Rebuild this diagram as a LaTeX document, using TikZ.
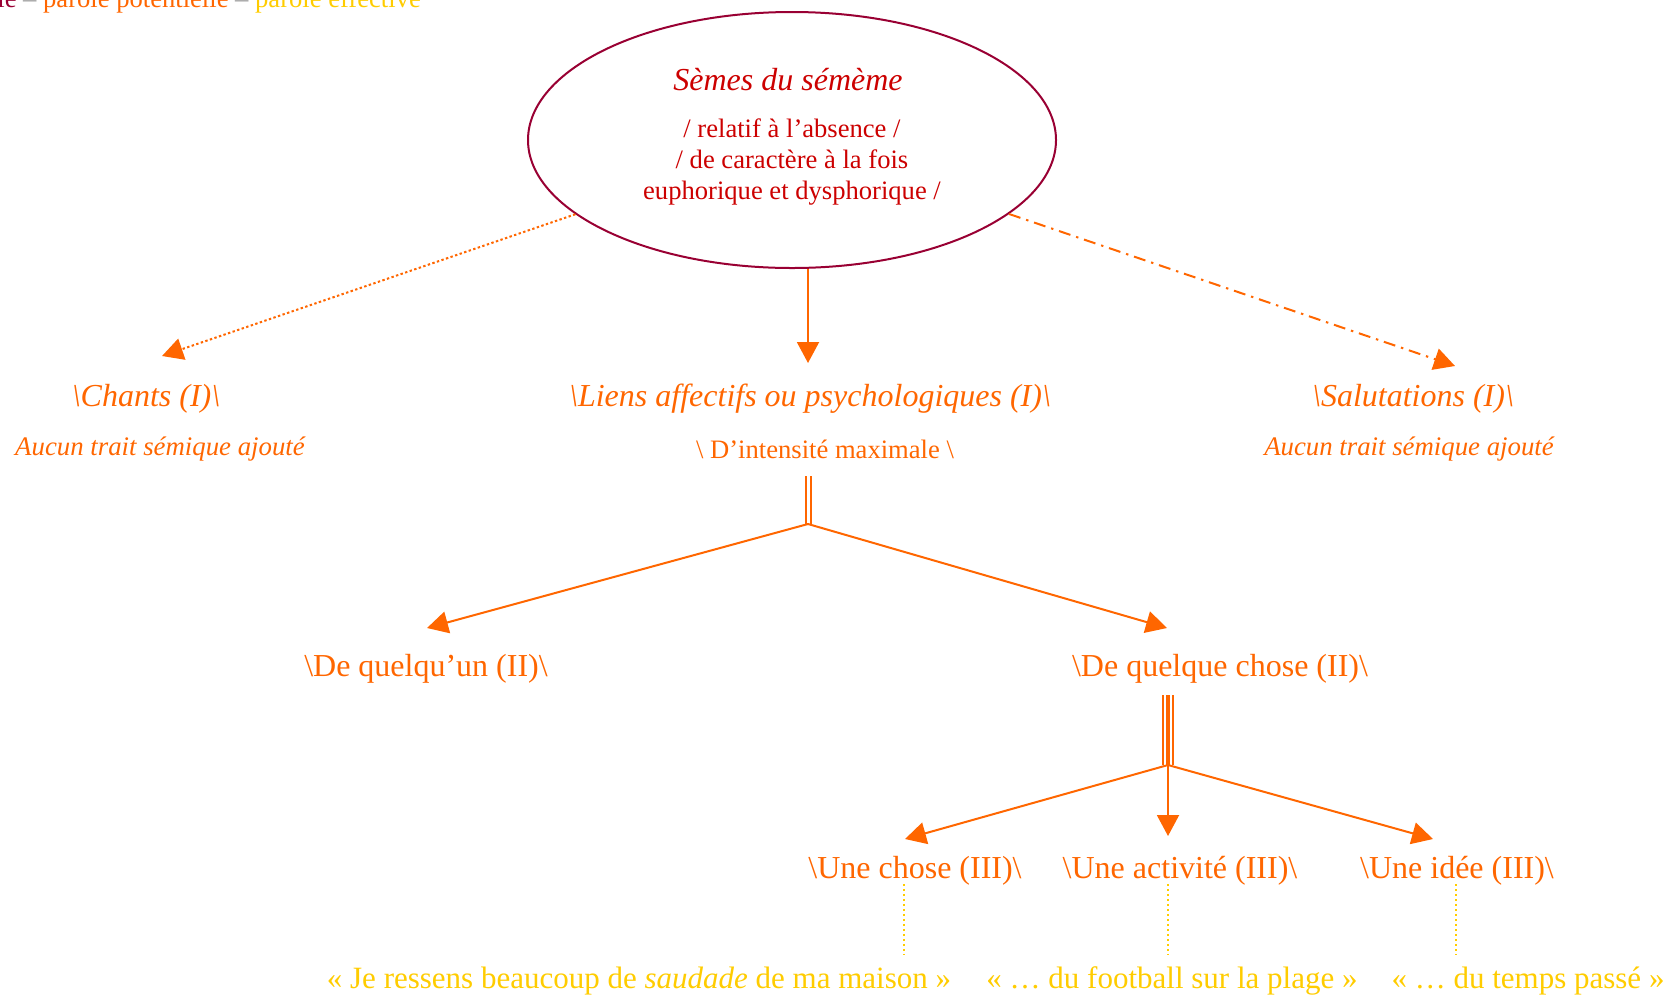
\documentclass[tikz,border=0pt]{standalone}
\usepackage{fontspec}
\setmainfont{Liberation Serif}
\usetikzlibrary{arrows.meta,shapes.geometric}
\definecolor{semred}{HTML}{CC0000}
\definecolor{ellred}{HTML}{990033}
\definecolor{org}{HTML}{FF6600}
\definecolor{ylw}{HTML}{FFCC00}
\definecolor{dashgray}{HTML}{A0A0A0}
\begin{document}
\begin{tikzpicture}[x=0.5pt,y=-0.5pt,
  txt/.style={inner sep=0pt, font=\fontsize{16}{18}\selectfont},
  lvl/.style={txt, text=org},
  lvlit/.style={txt, text=org, font=\fontsize{16}{18}\selectfont\itshape},
  sub/.style={inner sep=0pt, font=\fontsize{13.4}{15}\selectfont\itshape, text=org},
  arr/.style={draw=org, line width=1pt, -{Triangle[length=10.5pt,width=11pt]}},
  ex/.style={draw=ylw, line width=0.6pt, dash pattern=on 1pt off 1.5pt},
  quote/.style={inner sep=0pt, font=\fontsize{15.5}{18}\selectfont, text=ylw}]
\useasboundingbox (0,0) rectangle (1674,997);
% legend
\node[anchor=base west, inner sep=0pt, font=\fontsize{13.3}{15}\selectfont] (legend) at (-3,7)
  {\textcolor{ellred}{le} \textcolor{dashgray}{–} \textcolor{org}{parole potentielle} \textcolor{dashgray}{–} \textcolor{ylw}{parole effective}};
% ellipse
\node[ellipse, draw=ellred, line width=1pt, minimum width=264pt, minimum height=128pt, inner sep=0pt] (sem) at (792,140) {};
\node[inner sep=0pt, text=semred, font=\fontsize{16}{18}\selectfont\itshape] (semtitle) at (788,80) {Sèmes du sémème};
\node[inner sep=0pt, text=semred, font=\fontsize{13.3}{15.5}\selectfont, align=center] (sembody) at (792,162)
  {/ relatif à l’absence /\\/ de caractère à la fois\\euphorique et dysphorique /};
% level I
\node[lvlit] (chants) at (146,399) {\textbackslash Chants (I)\textbackslash};
\node[sub] (chantsub) at (160,449) {Aucun trait sémique ajouté};
\node[lvlit] (liens) at (810,399) {\textbackslash Liens affectifs ou psychologiques (I)\textbackslash};
\node[sub, font=\fontsize{13.3}{15}\selectfont] (intens) at (825,449) {\textbackslash\ D’intensité maximale \textbackslash};
\node[lvlit] (salut) at (1413,399) {\textbackslash Salutations (I)\textbackslash};
\node[sub] (salutsub) at (1409,449) {Aucun trait sémique ajouté};
% level II
\node[lvl] (quelquun) at (426,669) {\textbackslash De quelqu’un (II)\textbackslash};
\node[lvl] (quelquechose) at (1220,669) {\textbackslash De quelque chose (II)\textbackslash};
% level III
\node[lvl] (chose) at (915,871) {\textbackslash Une chose (III)\textbackslash};
\node[lvl] (activite) at (1180,871) {\textbackslash Une activité (III)\textbackslash};
\node[lvl] (idee) at (1457,871) {\textbackslash Une idée (III)\textbackslash};
% examples
\node[quote] (q1) at (639,981) {« Je ressens beaucoup de \textit{saudade} de ma maison »};
\node[quote] (q2) at (1172,981) {« … du football sur la plage »};
\node[quote] (q3) at (1528,981) {« … du temps passé »};
% coordinates
\coordinate (chantsTip) at (162,356);
\coordinate (salutTip) at (1455,366);
\coordinate (liensTip) at (808,363);
\coordinate (j1top) at (808,476);
\coordinate (j1) at (808,524);
\coordinate (quTip) at (427,628);
\coordinate (qcTip) at (1167,628);
\coordinate (j2top) at (1168,695);
\coordinate (j2) at (1168,765);
\coordinate (choseTip) at (905,839);
\coordinate (actTip) at (1168,836);
\coordinate (ideeTip) at (1433,839);
\coordinate (ex1top) at (904,884);
\coordinate (ex1bot) at (904,955);
\coordinate (ex2top) at (1168,884);
\coordinate (ex2bot) at (1168,955);
\coordinate (ex3top) at (1456,884);
\coordinate (ex3bot) at (1456,955);
% connectors level I
\draw[arr, dash pattern=on 1.2pt off 1.2pt] (sem) -- (chantsTip);
\draw[arr] (sem.south -| liensTip) -- (liensTip);
\draw[arr, dash pattern=on 6pt off 3pt on 1.2pt off 3pt] (sem) -- (salutTip);
% level II
\draw[draw=org, line width=1pt, double, double distance=1.5pt] (j1top) -- (j1);
\draw[arr] (j1) -- (quTip);
\draw[arr] (j1) -- (qcTip);
% level III
\draw[draw=org, line width=2pt] (j2top) -- (j2);
\draw[draw=org, line width=0.8pt] ([xshift=-2.5pt]j2top) -- ([xshift=-2.5pt]j2);
\draw[draw=org, line width=0.8pt] ([xshift=2.5pt]j2top) -- ([xshift=2.5pt]j2);
\draw[arr] (j2) -- (choseTip);
\draw[arr] (j2) -- (actTip);
\draw[arr] (j2) -- (ideeTip);
% examples
\draw[ex] (ex1top) -- (ex1bot);
\draw[ex] (ex2top) -- (ex2bot);
\draw[ex] (ex3top) -- (ex3bot);
\end{tikzpicture}
\end{document}
